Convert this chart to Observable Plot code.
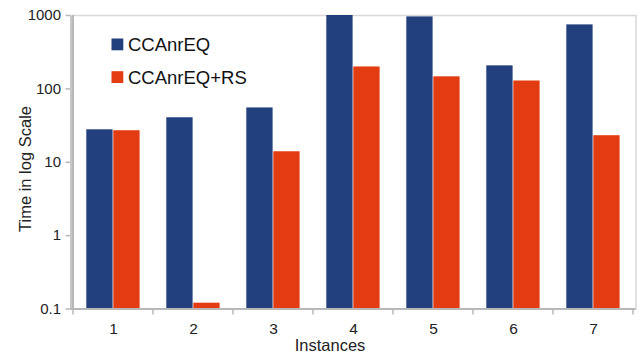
<!DOCTYPE html>
<html>
<head>
<meta charset="utf-8">
<script src="https://cdn.jsdelivr.net/npm/d3@7"></script>
<script src="https://cdn.jsdelivr.net/npm/@observablehq/plot@0.6"></script>
<style>
  html, body { margin: 0; padding: 0; background: #fff; }
  #chart { width: 642px; height: 356px; }
</style>
</head>
<body>
<div id="chart"></div>
<script>
const instances = ["1", "2", "3", "4", "5", "6", "7"];
const seriesNames = ["CCAnrEQ", "CCAnrEQ+RS"];
const ccanreq = [27.7, 40.4, 55, 1000, 957, 206, 745];
const ccanreqRS = [26.9, 0.12, 13.9, 199, 146, 128, 23];
const yTicks = [0.1, 1, 10, 100, 1000];
const colors = ["#22407e", "#e33b12"];
const xTitle = "Instances";
const yTitle = "Time in log Scale";

const rowsA = instances.map((k, i) => ({instance: k, series: seriesNames[0], value: ccanreq[i]}));
const rowsB = instances.map((k, i) => ({instance: k, series: seriesNames[1], value: ccanreqRS[i]}));

const font = "'Liberation Sans', Arial, sans-serif";
const axisGray = "#b8b8b8";

const plot = Plot.plot({
  width: 642,
  height: 356,
  marginLeft: 70.5,
  marginRight: 6.5,
  marginTop: 15,
  marginBottom: 47.5,
  style: {fontFamily: font, fontSize: "15px", color: "#222", background: "white"},
  x: {domain: instances, padding: 0, tickSize: 0, tickPadding: 14, label: null},
  y: {type: "log", domain: [0.1, 1000], ticks: yTicks, tickFormat: d => String(d), tickSize: 5, tickPadding: 5, label: null, line: true},
  marks: [
    Plot.frame({stroke: "#d8d8d8", strokeWidth: 1.5}),
    Plot.barY(rowsA, {x: "instance", y1: 0.1, y2: "value", fill: colors[0], insetLeft: 13.3, insetRight: 40.4}),
    Plot.barY(rowsB, {x: "instance", y1: 0.1, y2: "value", fill: colors[1], insetLeft: 40.3, insetRight: 13.4}),
    Plot.ruleY([0.1], {stroke: axisGray, strokeWidth: 2})
  ]
});

document.getElementById("chart").appendChild(plot);
const svg = d3.select(plot);

// restyle y axis lines
svg.selectAll('[aria-label^="y-axis"] path, [aria-label^="y-axis"] line')
  .attr("stroke", axisGray).attr("stroke-width", 1.5);
svg.selectAll('[aria-label^="y-axis"] text').attr("fill", "#222").style("font-size", "15px");
svg.selectAll('[aria-label^="x-axis"] text').attr("fill", "#222").style("font-size", "15.5px");

// x tick marks at band boundaries
const xs = plot.scale("x");
const ys = plot.scale("y");
const bw = xs.bandwidth;
const bounds = instances.map(k => xs.apply(k)).concat([xs.apply(instances[instances.length - 1]) + bw]);
const y0 = ys.apply(0.1);
svg.append("g").selectAll("line").data(bounds).join("line")
  .attr("x1", d => d).attr("x2", d => d)
  .attr("y1", y0).attr("y2", y0 + 6)
  .attr("stroke", axisGray).attr("stroke-width", 1.5);

// left axis line
svg.append("line")
  .attr("x1", xs.apply(instances[0])).attr("x2", xs.apply(instances[0]))
  .attr("y1", ys.apply(1000)).attr("y2", y0)
  .attr("stroke", axisGray).attr("stroke-width", 2);

// axis titles
svg.append("text")
  .attr("x", 330).attr("y", 350.5)
  .attr("text-anchor", "middle")
  .attr("font-family", font).attr("font-size", 16.5).attr("fill", "#222")
  .text(xTitle);
svg.append("text")
  .attr("transform", `translate(31,169) rotate(-90)`)
  .attr("text-anchor", "middle")
  .attr("font-family", font).attr("font-size", 16.5).attr("fill", "#222")
  .text(yTitle);

// legend
const lg = svg.append("g").attr("text-anchor", "start");
seriesNames.forEach((name, i) => {
  const top = 38.5 + i * 32.7;
  lg.append("rect").attr("x", 111.5).attr("y", top).attr("width", 11.8).attr("height", 11.8).attr("fill", colors[i]);
  lg.append("text").attr("x", 128).attr("y", top + 12.5)
    .attr("text-anchor", "start")
    .attr("font-family", font).attr("font-size", 18.5).attr("fill", "#111")
    .text(name);
});
</script>
</body>
</html>
